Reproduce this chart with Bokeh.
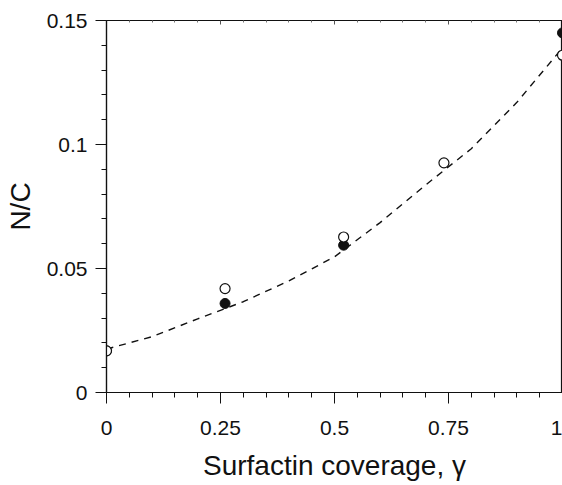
from bokeh.plotting import figure
from bokeh.models import FixedTicker, Range1d, LinearAxis
from bokeh.embed import file_html
from bokeh.resources import INLINE

# Data
open_x = [0.0, 0.26, 0.52, 0.74, 1.0]
open_y = [0.0168, 0.0419, 0.0627, 0.0926, 0.136]
filled_x = [0.0, 0.26, 0.52, 1.0]
filled_y = [0.0168, 0.0359, 0.0594, 0.145]
fit_x = [0.0, 0.1, 0.2, 0.3, 0.4, 0.5, 0.6, 0.7, 0.8, 0.9, 1.0]
fit_y = [0.0175, 0.0225, 0.0297, 0.0366, 0.045, 0.0547, 0.0685, 0.0837, 0.0983, 0.117, 0.139]

x_ticks = [0, 0.25, 0.5, 0.75, 1.0]
x_tick_labels = ["0", "0.25", "0.5", "0.75", "1"]
x_minor = [0.05, 0.1, 0.15, 0.2, 0.3, 0.35, 0.4, 0.45, 0.55, 0.6, 0.65, 0.7, 0.8, 0.85, 0.9, 0.95]
y_ticks = [0, 0.05, 0.1, 0.15]
y_tick_labels = ["0", "0.05", "0.1", "0.15"]
y_minor = [0.01, 0.02, 0.03, 0.04, 0.06, 0.07, 0.08, 0.09, 0.11, 0.12, 0.13, 0.14]

FONT = "Liberation Sans"
INK = "#111111"

p = figure(frame_width=456, frame_height=372,
           min_border_left=106, min_border_right=0, min_border_top=20, min_border_bottom=90,
           x_range=Range1d(0, 1.0), y_range=Range1d(0, 0.15),
           output_backend="svg", toolbar_location=None)
p.background_fill_color = "white"
p.border_fill_color = "white"
p.grid.visible = False
p.outline_line_color = INK
p.outline_line_width = 1.2

p.line(fit_x, fit_y, line_color=INK, line_width=1.4, line_dash="7 6")
p.scatter(filled_x, filled_y, size=10, marker="circle", fill_color=INK, line_color=INK)
p.scatter(open_x, open_y, size=10, marker="circle", fill_color="white", line_color=INK, line_width=1.2)

xa = p.xaxis[0]
xa.ticker = FixedTicker(ticks=x_ticks, minor_ticks=x_minor)
xa.major_label_overrides = {t: l for t, l in zip(x_ticks, x_tick_labels)}
xa.axis_label = "Surfactin coverage, γ"
xa.axis_label_text_font = FONT
xa.axis_label_text_font_size = "28px"
xa.axis_label_text_font_style = "normal"
xa.axis_label_text_color = INK
xa.axis_label_standoff = 12
xa.major_label_text_font = FONT
xa.major_label_text_font_size = "21px"
xa.major_label_text_color = INK
xa.major_label_standoff = 17
xa.major_tick_out = 11
xa.major_tick_in = 0
xa.minor_tick_out = 5
xa.minor_tick_in = 0
xa.axis_line_color = INK
xa.major_tick_line_color = INK
xa.minor_tick_line_color = INK
xa.axis_line_width = 1.2

ya = p.yaxis[0]
ya.ticker = FixedTicker(ticks=y_ticks, minor_ticks=y_minor)
ya.major_label_overrides = {t: l for t, l in zip(y_ticks, y_tick_labels)}
ya.axis_label = "N/C"
ya.axis_label_text_font = FONT
ya.axis_label_text_font_size = "28px"
ya.axis_label_text_font_style = "normal"
ya.axis_label_text_color = INK
ya.axis_label_standoff = 8
ya.major_label_text_font = FONT
ya.major_label_text_font_size = "21px"
ya.major_label_text_color = INK
ya.major_label_standoff = 8
ya.major_tick_out = 11
ya.major_tick_in = 0
ya.minor_tick_out = 5
ya.minor_tick_in = 0
ya.axis_line_color = INK
ya.major_tick_line_color = INK
ya.minor_tick_line_color = INK
ya.axis_line_width = 1.2

top = LinearAxis(ticker=FixedTicker(ticks=x_ticks, minor_ticks=x_minor))
top.major_label_overrides = {t: "" for t in x_ticks}
top.major_label_standoff = 0
top.major_tick_in = 4
top.major_tick_out = 0
top.minor_tick_in = 2
top.minor_tick_out = 0
top.axis_line_color = INK
top.major_tick_line_color = "#555555"
top.minor_tick_line_color = "#777777"
p.add_layout(top, "above")

open("out.html", "w").write(file_html(p, INLINE))
